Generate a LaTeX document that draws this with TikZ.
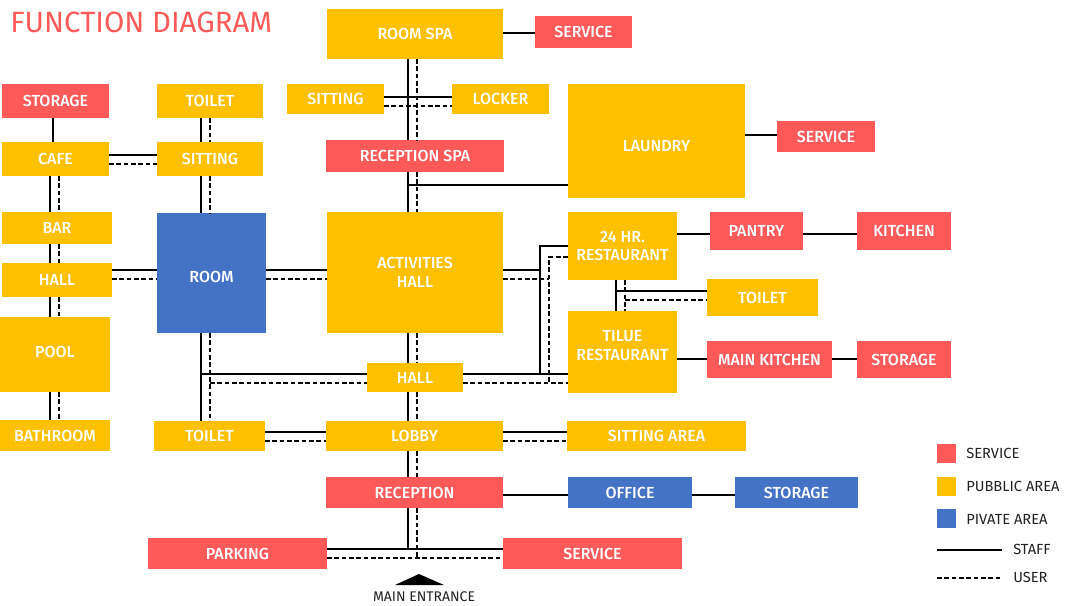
\documentclass[tikz,border=0pt]{standalone}
\usepackage{fontspec}
\setmainfont{Fira Sans}[BoldFont={Fira Sans Medium}]
\usetikzlibrary{calc}
\definecolor{cred}{HTML}{FF5A5A}
\definecolor{cyel}{HTML}{FFC000}
\definecolor{cblu}{HTML}{4472C4}
\definecolor{cdark}{HTML}{222222}
\newcommand\mybox[7]{\node[#1,minimum width={(#5-#3)*0.75pt},minimum height={(#6-#4)*0.75pt}] (#2) at ({(#3+#5)/2},{(#4+#6)/2}) {#7};}
\tikzset{
  bx/.style={inner sep=0pt, outer sep=0pt, text=white, align=center, font=\bfseries\fontsize{12}{14}\selectfont},
  rbx/.style={bx, fill=cred},
  ybx/.style={bx, fill=cyel},
  bbx/.style={bx, fill=cblu},
  staff/.style={line width=1.2pt, black},
  user/.style={line width=1.2pt, black, dash pattern=on 3.5pt off 2pt},
  lgd/.style={anchor=west, inner sep=0pt, text=cdark, font=\fontsize{11}{13}\selectfont},
}
\begin{document}
\begin{tikzpicture}[x=0.75pt, y=-0.75pt]
\useasboundingbox (0,0) rectangle (1068,606);
\node[anchor=base west, inner sep=0pt, text=cred, font=\fontsize{22}{26}\selectfont] (title) at (10,33) {FUNCTION DIAGRAM};
% boxes
\mybox{rbx}{stor1}{2}{84}{109}{118}{STORAGE}
\mybox{ybx}{toil1}{157}{84}{263}{118}{TOILET}
\mybox{ybx}{sitsp}{287}{84}{384}{114}{SITTING}
\mybox{ybx}{lock}{452}{84}{549}{114}{LOCKER}
\mybox{ybx}{rspa}{327}{9}{503}{59}{ROOM SPA}
\mybox{rbx}{serv1}{535}{16}{632}{48}{SERVICE}
\mybox{rbx}{recspa}{326}{140}{504}{172}{RECEPTION SPA}
\mybox{ybx, text height=15.8pt, text depth=0pt}{laund}{568}{84}{745}{198}{LAUNDRY}
\mybox{rbx}{serv2}{777}{121}{875}{152}{SERVICE}
\mybox{ybx}{cafe}{2}{142}{109}{176}{CAFE}
\mybox{ybx}{sit1}{157}{142}{263}{176}{SITTING}
\mybox{ybx}{bar}{2}{212}{112}{244}{BAR}
\mybox{ybx}{hall1}{2}{263}{112}{297}{HALL}
\mybox{ybx, text height=8.3pt, text depth=4.5pt}{pool}{0}{317}{110}{392}{POOL}
\mybox{ybx}{bath}{0}{420}{110}{451}{BATHROOM}
\mybox{bbx, text height=14.3pt, text depth=0pt}{room}{157}{213}{266}{333}{ROOM}
\mybox{ybx}{act}{327}{212}{503}{333}{ACTIVITIES\\HALL}
\mybox{ybx}{r24}{568}{212}{677}{280}{24 HR.\\RESTAURANT}
\mybox{rbx}{pant}{710}{212}{803}{250}{PANTRY}
\mybox{rbx}{kitch}{857}{212}{951}{250}{KITCHEN}
\mybox{ybx}{toil3}{707}{279}{818}{316}{TOILET}
\mybox{ybx, text depth=10pt}{tilue}{568}{311}{677}{393}{TILUE\\RESTAURANT}
\mybox{rbx}{mk}{707}{341}{832}{378}{MAIN KITCHEN}
\mybox{rbx}{stor3}{857}{341}{951}{378}{STORAGE}
\mybox{ybx}{hall2}{367}{363}{463}{392}{HALL}
\mybox{ybx}{toil2}{154}{421}{265}{451}{TOILET}
\mybox{ybx}{lobby}{326}{421}{503}{451}{LOBBY}
\mybox{ybx}{sitar}{567}{421}{746}{451}{SITTING AREA}
\mybox{rbx}{recep}{326}{477}{503}{508}{RECEPTION}
\mybox{bbx}{office}{568}{477}{692}{508}{OFFICE}
\mybox{bbx}{stor2}{735}{477}{858}{508}{STORAGE}
\mybox{rbx}{park}{148}{538}{327}{569}{PARKING}
\mybox{rbx}{serv3}{503}{538}{682}{569}{SERVICE}
% left column connectors
\draw[staff] (stor1.south -| 53,0) -- (cafe.north -| 53,0);
\draw[staff] (cafe.east |- 0,155) -- (sit1.west |- 0,155);
\draw[user] (cafe.east |- 0,164) -- (sit1.west |- 0,164);
\foreach \a/\b in {toil1/sit1, sit1/room, room/toil2}{
  \draw[staff] (\a.south -| 201,0) -- (\b.north -| 201,0);
  \draw[user] (\a.south -| 210,0) -- (\b.north -| 210,0);}
\foreach \a/\b in {cafe/bar, bar/hall1, hall1/pool, pool/bath}{
  \draw[staff] (\a.south -| 50,0) -- (\b.north -| 50,0);
  \draw[user] (\a.south -| 59,0) -- (\b.north -| 59,0);}
\foreach \a/\b in {hall1/room, room/act}{
  \draw[staff] (\a.east |- 0,270) -- (\b.west |- 0,270);
  \draw[user] (\a.east |- 0,279) -- (\b.west |- 0,279);}
\foreach \a/\b in {toil2/lobby, lobby/sitar}{
  \draw[staff] (\a.east |- 0,432) -- (\b.west |- 0,432);
  \draw[user] (\a.east |- 0,441) -- (\b.west |- 0,441);}
% spine
\foreach \a/\b in {rspa/recspa, recspa/act, act/hall2, hall2/lobby, lobby/recep}{
  \draw[staff] (\a.south -| 408,0) -- (\b.north -| 408,0);
  \draw[user] (\a.south -| 417,0) -- (\b.north -| 417,0);}
\draw[staff] (sitsp.east |- 0,97) -- (lock.west |- 0,97);
\draw[user] (sitsp.east |- 0,106) -- (lock.west |- 0,106);
\draw[staff] (rspa.east |- 0,33) -- (serv1.west |- 0,33);
\coordinate (jl) at (408,185);
\draw[staff] (jl) -- (laund.west |- jl);
\draw[staff] (laund.east |- 0,135) -- (serv2.west |- 0,135);
% hall branches
\coordinate (jh1) at (201,374);
\coordinate (jh2) at (210,383);
\draw[staff] (jh1) -- (hall2.west |- jh1);
\draw[user] (jh2) -- (hall2.west |- jh2);
\draw[staff] (hall2.east |- jh1) -- (tilue.west |- jh1);
\draw[user] (hall2.east |- jh2) -- (tilue.west |- jh2);
\coordinate (ks1) at (540,374);
\coordinate (ku1) at (549,383);
\draw[staff] (act.east |- 0,270) -- (ks1 |- 0,270);
\draw[staff] (r24.west |- 0,246) -| (ks1);
\draw[user] (act.east |- 0,279) -- (ku1 |- 0,279);
\draw[user] (r24.west |- 0,257) -| (ku1);
% restaurants
\draw[staff] (r24.east |- 0,234) -- (pant.west |- 0,234);
\draw[staff] (pant.east |- 0,234) -- (kitch.west |- 0,234);
\draw[staff] (r24.south -| 616,0) -- (tilue.north -| 616,0);
\draw[user] (r24.south -| 625,0) -- (tilue.north -| 625,0);
\coordinate (jt1) at (616,291);
\coordinate (jt2) at (625,300);
\draw[staff] (jt1) -- (toil3.west |- jt1);
\draw[user] (jt2) -- (toil3.west |- jt2);
\draw[staff] (tilue.east |- 0,359) -- (mk.west |- 0,359);
\draw[staff] (mk.east |- 0,359) -- (stor3.west |- 0,359);
% reception
\draw[staff] (recep.east |- 0,495) -- (office.west |- 0,495);
\draw[staff] (office.east |- 0,495) -- (stor2.west |- 0,495);
\coordinate (je1) at (408,549);
\coordinate (je2) at (417,558);
\draw[staff] (recep.south -| je1) -- (je1);
\draw[user] (recep.south -| je2) -- (je2);
\draw[staff] (park.east |- je1) -- (serv3.west |- je1);
\draw[user] (park.east |- je2) -- (serv3.west |- je2);
% main entrance
\fill[black] (395,585) -- (419,574) -- (444,585) -- cycle;
\node[inner sep=0pt, text=cdark, font=\fontsize{10.5}{12}\selectfont] (me) at (424,597) {MAIN ENTRANCE};
% legend
\mybox{rbx}{lg1}{937}{444}{956}{463}{}
\mybox{ybx}{lg2}{937}{477}{956}{496}{}
\mybox{bbx}{lg3}{937}{509}{956}{528}{}
\node[lgd] (lt1) at (966,453) {SERVICE};
\node[lgd] (lt2) at (966,486) {PUBBLIC AREA};
\node[lgd] (lt3) at (966,519) {PIVATE AREA};
\coordinate (ls1) at (937,550);
\coordinate (ls2) at (1002,550);
\coordinate (lu1) at (937,578);
\coordinate (lu2) at (1002,578);
\draw[staff] (ls1) -- (ls2);
\draw[user] (lu1) -- (lu2);
\node[lgd] (lt4) at (1013,549) {STAFF};
\node[lgd] (lt5) at (1013,577) {USER};
\end{tikzpicture}
\end{document}
